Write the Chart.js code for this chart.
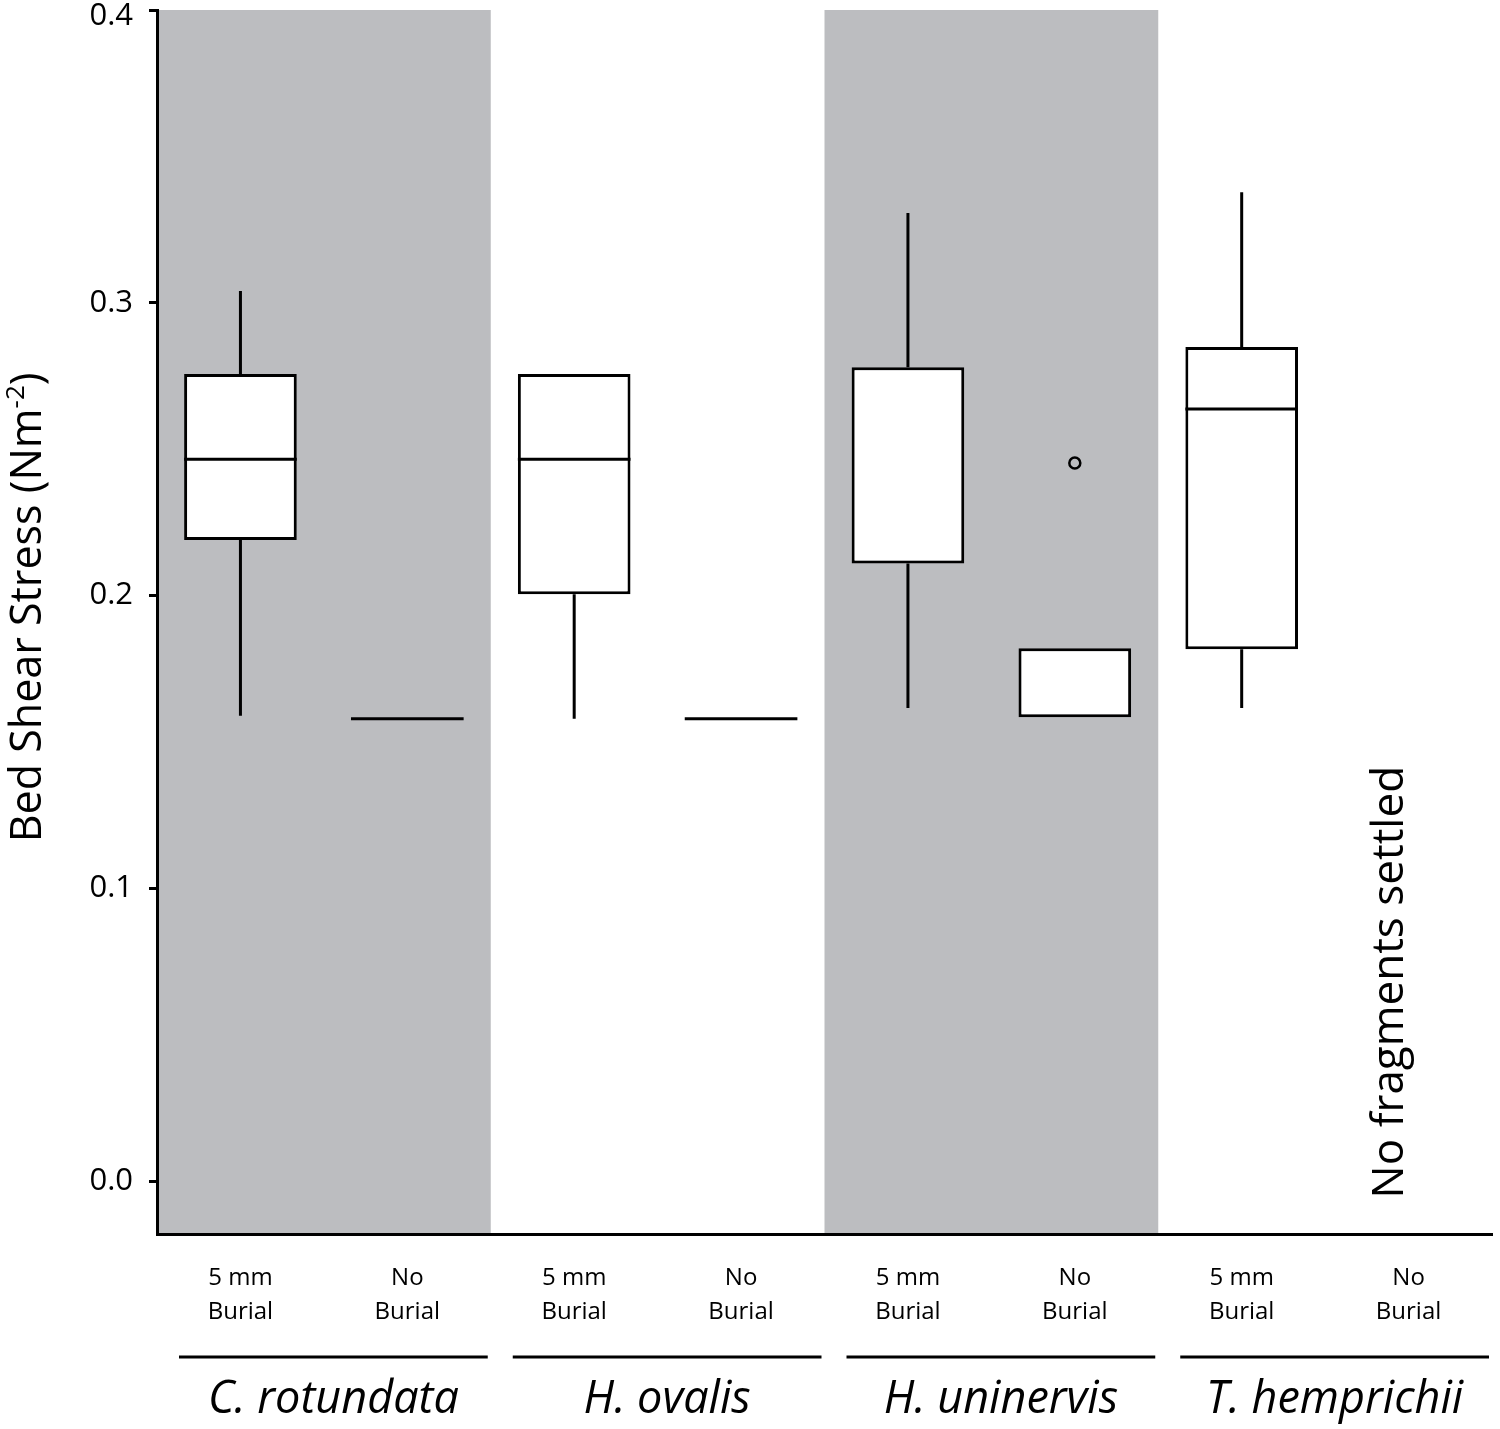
<!DOCTYPE html>
<html>
<head>
<meta charset="utf-8">
<script src="https://cdn.jsdelivr.net/npm/chart.js@4.4.1/dist/chart.umd.min.js"></script>
<style>
  html, body { margin: 0; padding: 0; background: #ffffff; }
  #wrap { width: 1500px; height: 1429px; position: relative; }
</style>
</head>
<body>
<div id="wrap"><canvas id="box-chart"></canvas></div>
<script>
const FONT = "'Open Sans', 'Noto Sans', sans-serif";
const SHADE = "#bcbdc0";

// categories, two treatments per species
const treatments = [["5 mm", "Burial"], ["No", "Burial"]];
const species = ["C. rotundata", "H. ovalis", "H. uninervis", "T. hemprichii"];
const shadedGroups = [0, 2];

// box plot summaries per category (null = nothing settled)
const whiskerLow = [0.159, 0.158, 0.158, 0.158, 0.1616, 0.1585, 0.1616, null];
const q1 = [0.219, 0.158, 0.2005, 0.158, 0.211, 0.1585, 0.1817, null];
const median = [0.2466, 0.158, 0.2466, 0.158, 0.278, 0.1585, 0.2637, null];
const q3 = [0.2757, 0.158, 0.2757, 0.158, 0.278, 0.182, 0.2849, null];
const whiskerHigh = [0.304, 0.158, 0.2757, 0.158, 0.3307, 0.182, 0.3378, null];
const outliers = [null, null, null, null, null, 0.2453, null, null];

const yTicks = [0, 0.1, 0.2, 0.3, 0.4];
const noDataNote = "No fragments settled";

const labels = [];
species.forEach(() => treatments.forEach((t) => labels.push(t)));

// grey bands behind every other species
const bandsPlugin = {
  id: "bands",
  beforeDraw(chart) {
    const { ctx, chartArea, scales } = chart;
    const x = scales.x;
    const half = (x.getPixelForValue(1) - x.getPixelForValue(0)) / 2;
    ctx.save();
    ctx.fillStyle = SHADE;
    shadedGroups.forEach((g) => {
      const left = x.getPixelForValue(g * 2) - half;
      const right = x.getPixelForValue(g * 2 + 1) + half;
      ctx.fillRect(left, chartArea.top, right - left, chartArea.bottom - chartArea.top);
    });
    ctx.restore();
  },
};

// whiskers and medians, drawn on top of the floating bars
const boxPlugin = {
  id: "boxParts",
  afterDatasetsDraw(chart) {
    const { ctx, scales } = chart;
    const y = scales.y;
    const bars = chart.getDatasetMeta(0).data;
    ctx.save();
    ctx.strokeStyle = "#000";
    ctx.lineWidth = 3;
    bars.forEach((bar, i) => {
      if (median[i] === null) return;
      const cx = bar.x;
      const hw = bar.width / 2;
      ctx.beginPath();
      if (whiskerHigh[i] > q3[i]) {
        ctx.moveTo(cx, y.getPixelForValue(q3[i]));
        ctx.lineTo(cx, y.getPixelForValue(whiskerHigh[i]));
      }
      if (whiskerLow[i] < q1[i]) {
        ctx.moveTo(cx, y.getPixelForValue(q1[i]));
        ctx.lineTo(cx, y.getPixelForValue(whiskerLow[i]));
      }
      // a median sitting on a hinge is already drawn by the box edge
      if (q1[i] === q3[i] || (median[i] !== q1[i] && median[i] !== q3[i])) {
        const my = y.getPixelForValue(median[i]);
        ctx.moveTo(cx - hw, my);
        ctx.lineTo(cx + hw, my);
      }
      ctx.stroke();
    });
    ctx.restore();
  },
};

// y title with superscript, group lines, species names, note
const textPlugin = {
  id: "extraText",
  afterDraw(chart) {
    const { ctx, scales } = chart;
    const x = scales.x;
    const y = scales.y;
    const half = (x.getPixelForValue(1) - x.getPixelForValue(0)) / 2;
    ctx.save();
    ctx.fillStyle = "#000";
    ctx.strokeStyle = "#000";

    // y axis title
    ctx.save();
    ctx.translate(41, y.getPixelForValue(0.196));
    ctx.rotate(-Math.PI / 2);
    const main = "Bed Shear Stress (Nm";
    const sup = "-2";
    const close = ")";
    ctx.font = "43px " + FONT;
    const wMain = ctx.measureText(main).width;
    const wClose = ctx.measureText(close).width;
    ctx.font = "26px " + FONT;
    const wSup = ctx.measureText(sup).width;
    let px = -(wMain + wSup + wClose) / 2;
    ctx.textBaseline = "alphabetic";
    ctx.textAlign = "left";
    ctx.font = "43px " + FONT;
    ctx.fillText(main, px, 0);
    px += wMain;
    ctx.font = "26px " + FONT;
    ctx.fillText(sup, px, -17);
    px += wSup;
    ctx.font = "43px " + FONT;
    ctx.fillText(close, px, 0);
    ctx.restore();

    // species underline + italic names
    ctx.lineWidth = 3;
    ctx.font = "italic 45px " + FONT;
    ctx.textAlign = "center";
    ctx.textBaseline = "middle";
    species.forEach((name, g) => {
      const left = x.getPixelForValue(g * 2) - half + 22;
      const right = x.getPixelForValue(g * 2 + 1) + half - 3;
      ctx.beginPath();
      ctx.moveTo(left, 1357);
      ctx.lineTo(right, 1357);
      ctx.stroke();
      ctx.fillText(name, (left + right) / 2, 1400);
    });

    // note for the empty category
    ctx.save();
    ctx.translate(x.getPixelForValue(7) - 18, y.getPixelForValue(0.068));
    ctx.rotate(-Math.PI / 2);
    ctx.font = "44px " + FONT;
    ctx.fillText(noDataNote, 0, 0);
    ctx.restore();

    ctx.restore();
  },
};

const topTick = yTicks[yTicks.length - 1];

const ctx = document.getElementById("box-chart").getContext("2d");
new Chart(ctx, {
  data: {
    labels: labels,
    datasets: [
      {
        type: "bar",
        data: q1.map((v, i) => (v === null ? null : [v, q3[i]])),
        backgroundColor: "#ffffff",
        borderColor: "#000000",
        borderWidth: 3,
        borderSkipped: false,
        barPercentage: 0.675,
        categoryPercentage: 1,
        order: 2,
      },
      {
        type: "line",
        data: outliers,
        showLine: false,
        pointRadius: 5.5,
        pointBorderWidth: 2.5,
        pointBorderColor: "#000000",
        pointBackgroundColor: "rgba(0,0,0,0)",
        order: 1,
      },
    ],
  },
  options: {
    responsive: true,
    maintainAspectRatio: false,
    animation: false,
    layout: { padding: { top: 10, right: 3, left: 0, bottom: 0 } },
    plugins: {
      legend: { display: false },
      tooltip: { enabled: false },
    },
    scales: {
      x: {
        type: "category",
        offset: true,
        grid: { display: false, drawTicks: false },
        border: { color: "#000", width: 3 },
        ticks: {
          color: "#000",
          font: { family: FONT, size: 24, lineHeight: 1.38 },
          padding: 28,
          maxRotation: 0,
          autoSkip: false,
        },
        afterFit(scale) {
          scale.height = 195;
          scale.paddingLeft = 0;
          scale.paddingRight = 0;
        },
      },
      y: {
        min: -0.018,
        max: 0.4,
        grid: {
          drawOnChartArea: false,
          drawTicks: true,
          tickLength: 8,
          tickColor: "#000",
          tickWidth: 3,
        },
        border: { color: "#000", width: 3 },
        ticks: {
          color: "#000",
          // the top label sits a little below its tick so it stays on the page
          font: (c) =>
            c.tick && c.tick.value === topTick
              ? { family: FONT, size: 31, lineHeight: 0.4 }
              : { family: FONT, size: 31 },
          padding: 16,
          callback: (v) => (v === topTick ? ["", v.toFixed(1)] : v.toFixed(1)),
        },
        afterBuildTicks(scale) {
          scale.ticks = yTicks.map((v) => ({ value: v }));
        },
        afterFit(scale) {
          scale.width = 157;
          scale.paddingTop = 0;
          scale.paddingBottom = 0;
        },
      },
    },
  },
  plugins: [bandsPlugin, boxPlugin, textPlugin],
});
</script>
</body>
</html>
